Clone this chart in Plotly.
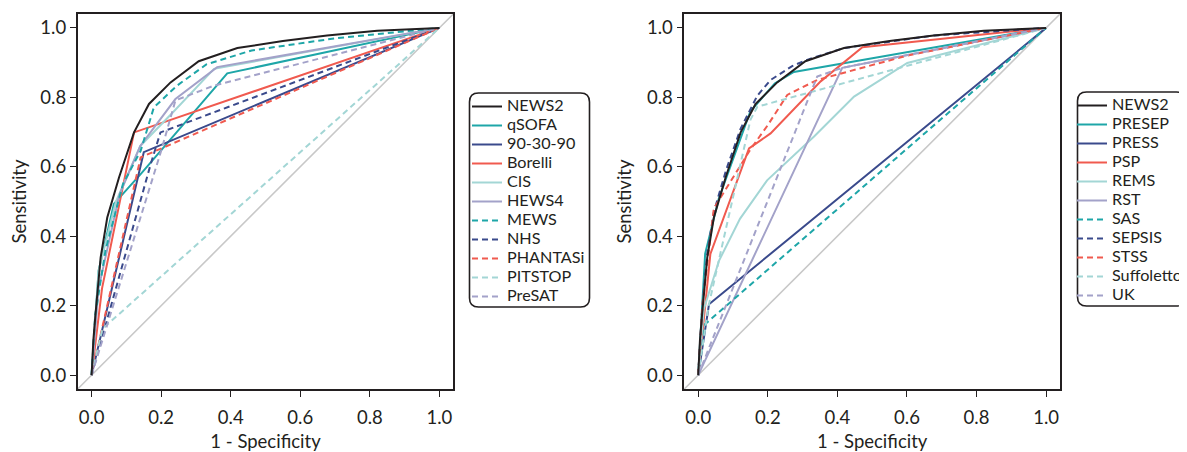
import plotly.graph_objects as go

W, H = 1187, 452
OFF = 8  # the page body adds an 8px offset

# ---------------- data: left panel ----------------
left_names = ["NEWS2", "qSOFA", "90-30-90", "Borelli", "CIS", "HEWS4",
              "MEWS", "NHS", "PHANTASi", "PITSTOP", "PreSAT"]

news2_fpr = [0, 0.005, 0.012, 0.026, 0.045, 0.079, 0.122, 0.165, 0.227, 0.308, 0.419, 0.55, 0.677, 0.821, 1.0]
news2_tpr = [0, 0.10, 0.185, 0.339, 0.454, 0.570, 0.699, 0.781, 0.843, 0.904, 0.942, 0.962, 0.978, 0.992, 1.0]

qsofa_fpr = [0, 0.02, 0.064, 0.141, 0.390, 1.0]
qsofa_tpr = [0, 0.30, 0.493, 0.579, 0.869, 1.0]

n903090_fpr = [0, 0.150, 1.0]
n903090_tpr = [0, 0.642, 1.0]

borelli_fpr = [0, 0.03, 0.122, 1.0]
borelli_tpr = [0, 0.25, 0.699, 1.0]

cis_fpr = [0, 0.02, 0.07, 0.14, 0.232, 0.352, 1.0]
cis_tpr = [0, 0.30, 0.50, 0.66, 0.755, 0.882, 1.0]

hews4_fpr = [0, 0.02, 0.08, 0.14, 0.241, 0.361, 1.0]
hews4_tpr = [0, 0.25, 0.52, 0.66, 0.795, 0.887, 1.0]

mews_fpr = [0, 0.01, 0.04, 0.09, 0.141, 0.179, 0.246, 0.33, 0.46, 0.70, 1.0]
mews_tpr = [0, 0.17, 0.36, 0.55, 0.646, 0.771, 0.834, 0.895, 0.935, 0.97, 1.0]

nhs_fpr = [0, 0.170, 0.198, 1.0]
nhs_tpr = [0, 0.608, 0.699, 1.0]

phantasi_fpr = [0, 0.141, 1.0]
phantasi_tpr = [0, 0.627, 1.0]

pitstop_fpr = [0, 0.031, 1.0]
pitstop_tpr = [0, 0.133, 1.0]

presat_fpr = [0, 0.20, 0.241, 0.352, 1.0]
presat_tpr = [0, 0.646, 0.791, 0.834, 1.0]

# ---------------- data: right panel ----------------
right_names = ["NEWS2", "PRESEP", "PRESS", "PSP", "REMS", "RST",
               "SAS", "SEPSIS", "STSS", "Suffoletto", "UK"]

presep_fpr = [0, 0.02, 0.059, 0.15, 0.22, 0.275, 1.0]
presep_tpr = [0, 0.35, 0.508, 0.76, 0.84, 0.873, 1.0]

press_fpr = [0, 0.031, 1.0]
press_tpr = [0, 0.204, 1.0]

psp_fpr = [0, 0.035, 0.146, 0.208, 0.352, 0.472, 1.0]
psp_tpr = [0, 0.349, 0.653, 0.696, 0.846, 0.944, 1.0]

rems_fpr = [0, 0.016, 0.06, 0.12, 0.198, 0.333, 0.448, 0.601, 1.0]
rems_tpr = [0, 0.19, 0.33, 0.45, 0.561, 0.687, 0.802, 0.899, 1.0]

rst_fpr = [0, 0.414, 1.0]
rst_tpr = [0, 0.885, 1.0]

sas_fpr = [0, 0.02, 1.0]
sas_tpr = [0, 0.147, 1.0]

sepsis_fpr = [0, 0.012, 0.026, 0.045, 0.08, 0.122, 0.17, 0.208, 0.27, 0.313, 0.419, 0.677, 1.0]
sepsis_tpr = [0, 0.20, 0.35, 0.47, 0.59, 0.71, 0.805, 0.85, 0.89, 0.908, 0.942, 0.978, 1.0]

stss_fpr = [0, 0.012, 0.045, 0.15, 0.20, 0.256, 0.342, 0.60, 1.0]
stss_tpr = [0, 0.20, 0.48, 0.65, 0.72, 0.807, 0.85, 0.92, 1.0]

suff_fpr = [0, 0.03, 0.15, 0.17, 1.0]
suff_tpr = [0, 0.20, 0.735, 0.773, 1.0]

uk_fpr = [0, 0.342, 0.414, 1.0]
uk_tpr = [0, 0.860, 0.885, 1.0]

# ---------------- styles ----------------
BLACK = "#231f20"
TEAL = "#1ea6a8"
NAVY = "#3a4a8c"
CORAL = "#f05a4f"
LTEAL = "#a3d6d5"
LAV = "#a3a2c9"
DASH = "6px,4px"

left_series = [
    (news2_fpr, news2_tpr, BLACK, "solid"),
    (qsofa_fpr, qsofa_tpr, TEAL, "solid"),
    (n903090_fpr, n903090_tpr, NAVY, "solid"),
    (borelli_fpr, borelli_tpr, CORAL, "solid"),
    (cis_fpr, cis_tpr, LTEAL, "solid"),
    (hews4_fpr, hews4_tpr, LAV, "solid"),
    (mews_fpr, mews_tpr, TEAL, DASH),
    (nhs_fpr, nhs_tpr, NAVY, DASH),
    (phantasi_fpr, phantasi_tpr, CORAL, DASH),
    (pitstop_fpr, pitstop_tpr, LTEAL, DASH),
    (presat_fpr, presat_tpr, LAV, DASH),
]
right_series = [
    (news2_fpr, news2_tpr, BLACK, "solid"),
    (presep_fpr, presep_tpr, TEAL, "solid"),
    (press_fpr, press_tpr, NAVY, "solid"),
    (psp_fpr, psp_tpr, CORAL, "solid"),
    (rems_fpr, rems_tpr, LTEAL, "solid"),
    (rst_fpr, rst_tpr, LAV, "solid"),
    (sas_fpr, sas_tpr, TEAL, DASH),
    (sepsis_fpr, sepsis_tpr, NAVY, DASH),
    (stss_fpr, stss_tpr, CORAL, DASH),
    (suff_fpr, suff_tpr, LTEAL, DASH),
    (uk_fpr, uk_tpr, LAV, DASH),
]

LEG_FS = 16.2
TICK_FS = 18.5
TITLE_FS = 18.5

fig = go.Figure()

def add_panel(names, series, xa, ya, leg):
    order = list(range(1, len(series))) + [0]  # draw NEWS2 last (on top)
    for i in order:
        fx, ty, col, dash = series[i]
        fig.add_trace(go.Scatter(
            x=fx, y=ty, mode="lines",
            name='<span style="font-size:%spx">%s</span>' % (LEG_FS, names[i]),
            line=dict(color=col, width=2, dash=dash),
            xaxis=xa, yaxis=ya, legend=leg, legendrank=i + 1,
            hoverinfo="skip",
        ))

add_panel(left_names, left_series, "x", "y", "legend")
add_panel(right_names, right_series, "x2", "y2", "legend2")

# plot-area geometry in page pixels, converted to figure pixels
L1, R1 = 77.7 - OFF, 453.3 - OFF
L2, R2 = 684.3 - OFF, 1060.0 - OFF
T, B = 14.0 - OFF, 389.0 - OFF

axis_common = dict(
    range=[-0.04, 1.04], showline=True, mirror=True, linecolor=BLACK, linewidth=1.6,
    ticks="outside", ticklen=6, tickwidth=1.4, tickcolor=BLACK,
    tickvals=[0, 0.2, 0.4, 0.6, 0.8, 1.0], tickformat=".1f",
    showgrid=False, zeroline=False, fixedrange=True,
    tickfont=dict(family="Lato", size=TICK_FS, color=BLACK),
)
title_font = dict(family="Lato", size=TITLE_FS, color=BLACK)

fig.update_layout(
    width=W, height=H, autosize=False,
    margin=dict(l=0, r=0, t=0, b=0),
    paper_bgcolor="white", plot_bgcolor="white",
    font=dict(family="Lato", size=16, color=BLACK),
    xaxis=dict(domain=[L1 / W, R1 / W], anchor="y", ticklabelstandoff=5,
               title=dict(text="1 - Specificity", font=title_font, standoff=8), **axis_common),
    yaxis=dict(domain=[1 - B / H, 1 - T / H], anchor="x",
               title=dict(text="Sensitivity", font=title_font, standoff=10), **axis_common),
    xaxis2=dict(domain=[L2 / W, R2 / W], anchor="y2", ticklabelstandoff=5,
                title=dict(text="1 - Specificity", font=title_font, standoff=8), **axis_common),
    yaxis2=dict(domain=[1 - B / H, 1 - T / H], anchor="x2",
                title=dict(text="Sensitivity", font=title_font, standoff=10), **axis_common),
    legend=dict(x=459 / W, y=1 - 84 / H, xanchor="left", yanchor="top",
                bgcolor="rgba(0,0,0,0)", borderwidth=0, tracegroupgap=0,
                font=dict(family="Lato", size=12.3, color=BLACK), traceorder="normal"),
    legend2=dict(x=1064 / W, y=1 - 83 / H, xanchor="left", yanchor="top",
                 bgcolor="rgba(0,0,0,0)", borderwidth=0, tracegroupgap=0,
                 font=dict(family="Lato", size=12.3, color=BLACK), traceorder="normal"),
    showlegend=True,
)

# diagonal chance lines across each panel
for xr, yr in (("x domain", "y domain"), ("x2 domain", "y2 domain")):
    fig.add_shape(type="line", xref=xr, yref=yr, x0=0, y0=0, x1=1, y1=1,
                  line=dict(color="#c8c8c8", width=1.6), layer="below")

# rounded legend frames (figure pixel coords)
def rounded_box(x0, y0, x1, y1, r=9):
    def px(x):
        return x / W
    def py(y):
        return 1 - y / H
    p = (f"M {px(x0 + r)},{py(y0)} L {px(x1 - r)},{py(y0)} "
         f"Q {px(x1)},{py(y0)} {px(x1)},{py(y0 + r)} "
         f"L {px(x1)},{py(y1 - r)} Q {px(x1)},{py(y1)} {px(x1 - r)},{py(y1)} "
         f"L {px(x0 + r)},{py(y1)} Q {px(x0)},{py(y1)} {px(x0)},{py(y1 - r)} "
         f"L {px(x0)},{py(y0 + r)} Q {px(x0)},{py(y0)} {px(x0 + r)},{py(y0)} Z")
    fig.add_shape(type="path", xref="paper", yref="paper", path=p,
                  line=dict(color=BLACK, width=1.6), fillcolor="rgba(0,0,0,0)")

rounded_box(469.5 - OFF, 93 - OFF, 589.5 - OFF, 307 - OFF)
rounded_box(1077.5 - OFF, 92 - OFF, 1185.5 - OFF, 306 - OFF)

fig.write_html("out.html")
